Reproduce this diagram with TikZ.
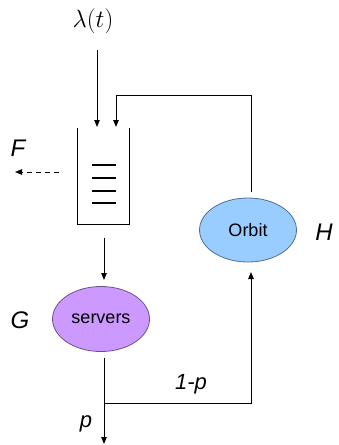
\documentclass[tikz,border=0pt]{standalone}
\usepackage{fontspec}
\setmainfont{Liberation Sans}
\usetikzlibrary{arrows.meta,shapes.geometric}
\definecolor{servfill}{RGB}{204,153,255}
\definecolor{servdraw}{RGB}{110,80,140}
\definecolor{orbfill}{RGB}{153,204,255}
\definecolor{orbdraw}{RGB}{80,110,150}
\tikzset{
  arr/.style={-{Triangle[length=7pt,width=5.5pt]}, line width=1pt},
  plain/.style={line width=1pt},
  ell/.style={ellipse, minimum width=97pt, minimum height=64pt, inner sep=0pt, line width=0.8pt, font=\fontsize{18}{20}\selectfont},
  biglbl/.style={font=\fontsize{24}{28}\selectfont\itshape, inner sep=0pt},
  medlbl/.style={font=\fontsize{22}{26}\selectfont\itshape, inner sep=0pt},
}
\begin{document}
\begin{tikzpicture}[x=1pt,y=-1pt]
\useasboundingbox (0,0) rectangle (338,445);
% labels
\node[inner sep=0pt, font=\fontsize{23}{26}\selectfont] (lam) at (93,21) {$\lambda(t)$};
\node[biglbl] (F) at (18,148) {F};
\node[biglbl] (G) at (20,320) {G};
\node[biglbl] (H) at (324,232) {H};
\node[medlbl] (omp) at (191,384) {1-p};
\node[medlbl] (p) at (86,424) {p};
% queue
\node[minimum width=51pt, minimum height=96pt, inner sep=0pt] (q) at (103.5,176) {};
\draw[plain] (q.north west) -- (q.south west) -- (q.south east) -- (q.north east);
\foreach \yy in {165,178,191,203}
  \draw[line width=1.3pt] (92,\yy) -- (116,\yy);
% ellipses
\node[ell, draw=servdraw, fill=servfill, minimum height=65pt] (serv) at (101,319) {servers};
\node[ell, draw=orbdraw, fill=orbfill] (orb) at (248,230) {Orbit};
% coordinates
\coordinate (lamtop) at (97,50);
\coordinate (lamend) at (97,127);
\coordinate (fbstart) at (251,192);
\coordinate (fbcorner1) at (251,95);
\coordinate (fbcorner2) at (116,95);
\coordinate (fbend) at (116,127);
\coordinate (qout) at (104,238);
\coordinate (servin) at (104,280);
\coordinate (servout) at (104,358);
\coordinate (exitend) at (104,444);
\coordinate (split) at (104,403);
\coordinate (retcorner) at (251,403);
\coordinate (orbin) at (251,272);
\coordinate (fstart) at (59,172);
\coordinate (fend) at (15,172);
% connectors
\draw[arr] (lamtop) -- (lamend);
\draw[arr] (fbstart) -- (fbcorner1) -- (fbcorner2) -- (fbend);
\draw[arr] (qout) -- (servin);
\draw[arr] (servout) -- (exitend);
\draw[arr] (split) -- (retcorner) -- (orbin);
\draw[arr, dash pattern=on 5pt off 4pt] (fstart) -- (fend);
\end{tikzpicture}
\end{document}
